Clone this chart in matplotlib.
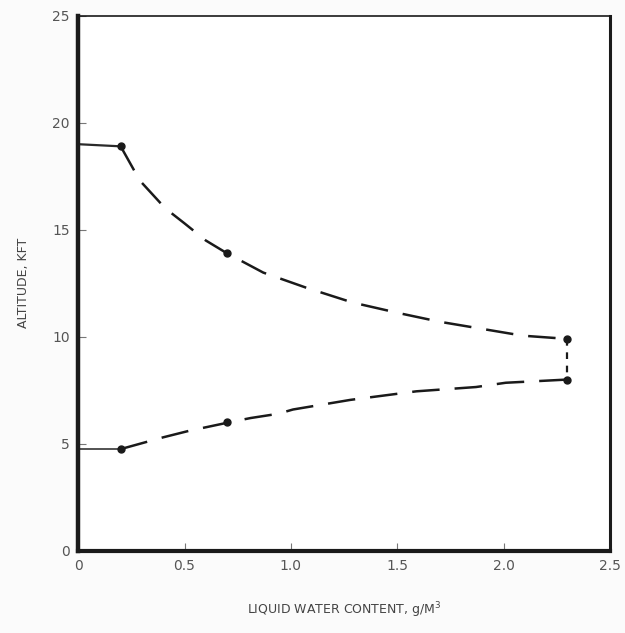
import matplotlib
matplotlib.use("Agg")
import matplotlib.pyplot as plt

# measured points (markers)
upper_pts_x = [0.2, 0.7, 2.3]
upper_pts_y = [18.9, 13.9, 9.9]
lower_pts_x = [0.2, 0.7, 2.3]
lower_pts_y = [4.75, 6.0, 8.0]

# dashed fairing curves
upper_curve_x = [0.2, 0.29, 0.41, 0.5, 0.6, 0.7, 0.87, 1.07, 1.29, 1.51, 1.70, 1.88, 2.09, 2.3]
upper_curve_y = [18.9, 17.3, 16.0, 15.3, 14.5, 13.9, 13.0, 12.3, 11.6, 11.1, 10.7, 10.4, 10.05, 9.9]
lower_curve_x = [0.2, 0.4, 0.52, 0.71, 0.81, 0.94, 1.01, 1.28, 1.59, 1.87, 2.01, 2.3]
lower_curve_y = [4.75, 5.3, 5.6, 6.0, 6.2, 6.4, 6.6, 7.05, 7.45, 7.65, 7.85, 8.0]

# flat extensions to the axis
upper_flat_x = [0.0, 0.2]
upper_flat_y = [19.0, 18.9]
lower_flat_x = [0.0, 0.2]
lower_flat_y = [4.75, 4.75]

x_ticks = [0, 0.5, 1.0, 1.5, 2.0, 2.5]
x_labels = ["0", "0.5", "1.0", "1.5", "2.0", "2.5"]
y_ticks = [0, 5, 10, 15, 20, 25]
y_labels = ["0", "5", "10", "15", "20", "25"]

fig = plt.figure(figsize=(6.25, 6.33), dpi=100)
ax = fig.add_axes([0.125, 0.130, 0.851, 0.845])

ink = "#1a1a1a"
dash = (0, (11, 6))

ax.plot(upper_flat_x, upper_flat_y, color="#2a2a2a", lw=1.6)
ax.plot(lower_flat_x, lower_flat_y, color="#444444", lw=1.3)
ax.plot(upper_curve_x, upper_curve_y, color=ink, lw=1.8, linestyle=dash)
ax.plot(lower_curve_x, lower_curve_y, color=ink, lw=1.8, linestyle=dash)
ax.plot([upper_pts_x[-1], lower_pts_x[-1]], [upper_pts_y[-1], lower_pts_y[-1]],
        color=ink, lw=1.6, linestyle=(0, (3, 3)))
ax.plot(upper_pts_x, upper_pts_y, "o", color=ink, ms=5)
ax.plot(lower_pts_x, lower_pts_y, "o", color=ink, ms=5)

ax.set_xlim(0, 2.5)
ax.set_ylim(0, 25)
ax.set_xticks(x_ticks)
ax.set_xticklabels(x_labels)
ax.set_yticks(y_ticks)
ax.set_yticklabels(y_labels)
ax.tick_params(direction="in", length=6, width=0.8, colors="#777777",
               labelsize=10, labelcolor="#555555", pad=6)

ax.spines["left"].set_linewidth(3.2)
ax.spines["bottom"].set_linewidth(3.0)
ax.spines["right"].set_linewidth(2.2)
ax.spines["top"].set_linewidth(1.2)
for s in ax.spines.values():
    s.set_color(ink)

ax.set_xlabel("LIQUID WATER CONTENT, g/M$^3$", fontsize=9, color="#444444", labelpad=20)
ax.set_ylabel("ALTITUDE, KFT", fontsize=9, color="#444444", labelpad=16)

fig.savefig("out.png", dpi=100, facecolor="#fbfbfb")
